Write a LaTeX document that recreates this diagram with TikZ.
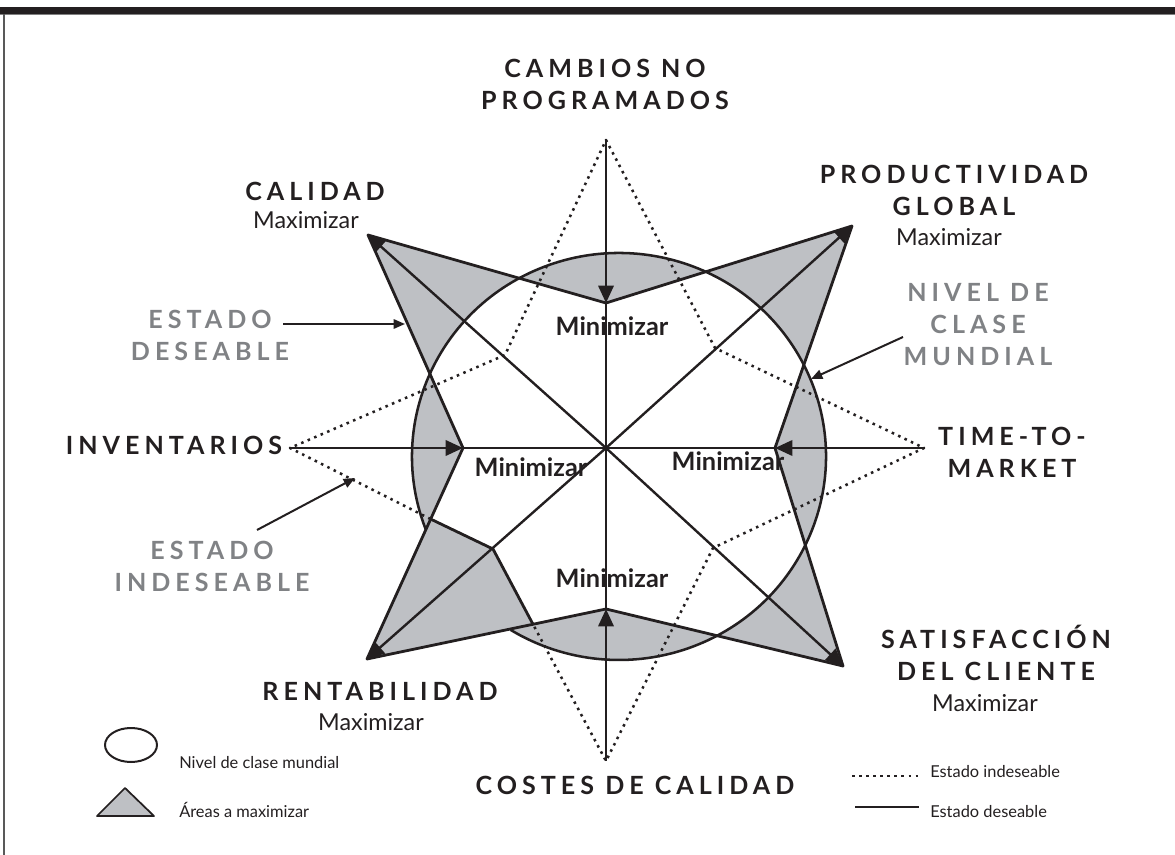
\documentclass[tikz,border=0pt]{standalone}
\usepackage{fontspec}
\setmainfont{Lato}
\newfontfamily\ttlfont[LetterSpace=20]{Lato}
\usetikzlibrary{arrows.meta,calc}
\definecolor{ink}{RGB}{35,31,32}
\definecolor{softgray}{RGB}{128,130,133}
\definecolor{areagray}{RGB}{190,192,196}
\tikzset{
  ttl/.style={inner sep=0pt,anchor=south,align=center,text=ink,font=\ttlfont\bfseries\fontsize{18.8}{24}\selectfont},
  grayttl/.style={ttl,text=softgray},
  maxi/.style={inner sep=0pt,anchor=base,text=ink,font=\fontsize{17.5}{20}\selectfont},
  mini/.style={inner sep=0pt,anchor=base,text=ink,font=\bfseries\fontsize{19}{22}\selectfont},
  legtxt/.style={inner sep=0pt,anchor=base west,text=ink,font=\fontsize{12.3}{14}\selectfont},
  starline/.style={draw=ink,line width=2.1pt},
  rim/.style={draw=ink,line width=1.9pt},
  dotline/.style={draw=ink,line width=1.9pt,dash pattern=on 1.9pt off 3.4pt},
  axis/.style={draw=ink,line width=1.8pt},
  pointer/.style={draw=ink,line width=1.5pt,-{Triangle[length=8.5pt,width=7pt]}},
}
\begin{document}
\begin{tikzpicture}[x=0.75pt,y=-0.75pt,line join=round,>={Triangle[length=13pt,width=11.5pt]}]
\useasboundingbox (0,0) rectangle (1175,855);
% centre and rim
\coordinate (o) at (606,448);
\coordinate (cc) at (619,456.5);
% desirable star: tips and notches
\coordinate (qual) at (368,235);
\coordinate (prod) at (852,226);
\coordinate (sat) at (843,666);
\coordinate (rent) at (367,659);
\coordinate (ntop) at (606,303);
\coordinate (nright) at (775,448);
\coordinate (nbot) at (606,609);
\coordinate (nleft) at (463,448);
% undesirable star
\coordinate (dtop) at (606,140);
\coordinate (dright) at (924,448);
\coordinate (dbot) at (606,761);
\coordinate (dleft) at (290,448);
\coordinate (dul) at (505,355);
\coordinate (dur) at (715,348);
\coordinate (dlr) at (713,548);
\coordinate (dll) at (493,549);
\coordinate (cutA) at (430.5,519);
\coordinate (cutB) at (533,624.3);

% shaded areas
\fill[areagray,even odd rule] (qual) -- (ntop) -- (prod) -- (nright) -- (sat) -- (nbot) -- (rent) -- (nleft) -- cycle
  (cc) ellipse [x radius=207,y radius=203.5];
\fill[areagray] (cutA) -- (dll) -- (cutB) -- (rent) -- cycle;

% rim
\draw[rim] (cc) ++(158.8:207 and 203.5) arc [start angle=158.8,end angle=481.6,x radius=207,y radius=203.5];

% stars
\draw[starline] (qual) -- (ntop) -- (prod) -- (nright) -- (sat) -- (nbot) -- (rent) -- (nleft) -- cycle;
\draw[dotline] (cutA) -- (dleft) -- (dul) -- (dtop) -- (dur) -- (dright) -- (dlr) -- (dbot) -- (cutB);
\draw[starline] (cutA) -- (dll) -- (cutB);

% axes
\draw[axis,->] (dtop) -- (ntop);
\draw[axis,->] (dbot) -- (nbot);
\draw[axis,->] (dleft) -- (nleft);
\draw[axis,->] (dright) -- (nright);
\draw[axis] (ntop) -- (nbot) (nleft) -- (nright);
\foreach \t in {qual,prod,sat,rent}
  \draw[axis,->] (o) -- (\t);

% labels
\node[ttl] (lblCambios) at (605,110) {CAMBIOS NO\\PROGRAMADOS};
\node[ttl] (lblCal) at (315,201) {CALIDAD};
\node[maxi] (maxCal) at (306,229) {Maximizar};
\node[ttl] (lblProd) at (954,216) {PRODUCTIVIDAD\\GLOBAL};
\node[maxi] (maxProd) at (949,246) {Maximizar};
\node[grayttl] (lblNivel) at (978,366) {NIVEL DE\\CLASE\\MUNDIAL};
\node[grayttl] (lblDes) at (210,361) {ESTADO\\DESEABLE};
\node[ttl] (lblInv) at (174,455) {INVENTARIOS};
\node[ttl] (lblTime) at (1012,478) {TIME-TO-\\MARKET};
\node[grayttl] (lblInd) at (212,592) {ESTADO\\INDESEABLE};
\node[ttl] (lblRent) at (380,701) {RENTABILIDAD};
\node[maxi] (maxRent) at (371,730) {Maximizar};
\node[ttl] (lblSat) at (996,681) {SATISFACCIÓN\\DEL CLIENTE};
\node[maxi] (maxSat) at (985,711) {Maximizar};
\node[ttl] (lblCostes) at (635,795) {COSTES DE CALIDAD};
\node[mini] (minTop) at (612,336) {Minimizar};
\node[mini] (minLeft) at (531,477) {Minimizar};
\node[mini] (minRight) at (728,471) {Minimizar};
\node[mini] (minBot) at (612,587) {Minimizar};

% pointers
\coordinate (desFrom) at (283,324);
\coordinate (desTo) at (405,324);
\coordinate (nivFrom) at (903,337);
\coordinate (nivTo) at (811,379);
\coordinate (indFrom) at (257,530);
\coordinate (indTo) at (355,478);
\draw[pointer] (desFrom) -- (desTo);
\draw[pointer] (nivFrom) -- (nivTo);
\draw[pointer] (indFrom) -- (indTo);

% legend
\draw[ink,line width=1.5pt] (131,745) ellipse [x radius=26,y radius=17];
\node[legtxt] (legRim) at (179,768) {Nivel de clase mundial};
\draw[ink,fill=areagray,line width=1.3pt] (97,816) -- (154,816) -- (125,788) -- cycle;
\node[legtxt] (legArea) at (179,817) {Áreas a maximizar};
\draw[dotline,line width=1.5pt] (852,776) -- (922,776);
\node[legtxt] (legBad) at (930,777) {Estado indeseable};
\draw[axis] (855,807) -- (919,807);
\node[legtxt] (legGood) at (930,817) {Estado deseable};

% frame
\fill[ink] (0,7) rectangle (1175,14);
\draw[gray,line width=0.8pt] (0,14.5) -- (1175,14.5);
\draw[gray!70!black,line width=1.5pt] (4,14) -- (4,855);
\end{tikzpicture}
\end{document}
